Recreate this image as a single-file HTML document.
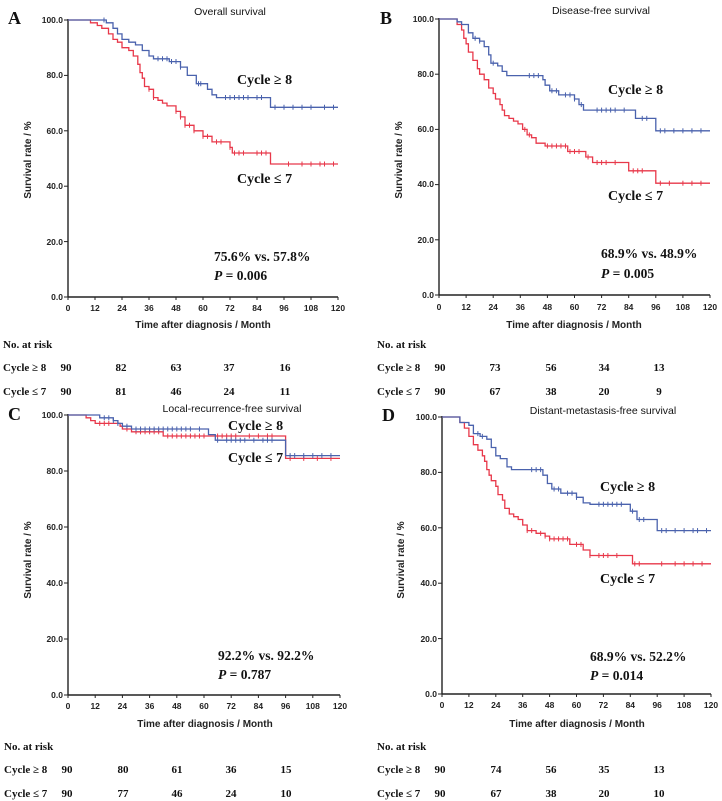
<!DOCTYPE html>
<html><head><meta charset="utf-8">
<style>
html,body{margin:0;padding:0;background:#fff;}
svg{display:block;}
.tk{font-family:"Liberation Sans",Arial,sans-serif;font-weight:bold;font-size:8.5px;fill:#222;}
.ti{font-family:"Liberation Sans",Arial,sans-serif;font-size:10.5px;fill:#111;}
.xl{font-family:"Liberation Sans",Arial,sans-serif;font-weight:bold;font-size:10px;fill:#222;}
.cy{font-family:"Liberation Serif","Times New Roman",serif;font-weight:bold;font-size:14px;fill:#111;}
.st{font-family:"Liberation Serif","Times New Roman",serif;font-weight:bold;font-size:13.5px;fill:#111;}
.rk{font-family:"Liberation Serif","Times New Roman",serif;font-weight:bold;font-size:11px;fill:#111;}
.pl{font-family:"Liberation Serif","Times New Roman",serif;font-weight:bold;font-size:18px;fill:#111;}
</style></head><body>
<svg id="s" width="722" height="801" viewBox="0 0 722 801" xmlns="http://www.w3.org/2000/svg">
<g id="plots"></g>
<!-- Panel A -->
<text class="pl" x="8" y="24">A</text>
<text class="ti" x="230" y="15" text-anchor="middle">Overall survival</text>
<text class="xl" x="203" y="328" text-anchor="middle">Time after diagnosis / Month</text>
<text class="xl" transform="translate(31,160) rotate(-90)" text-anchor="middle">Survival rate / %</text>
<text class="cy" x="237" y="84">Cycle ≥ 8</text>
<text class="cy" x="237" y="183">Cycle ≤ 7</text>
<text class="st" x="214" y="261">75.6% vs. 57.8%</text>
<text class="st" x="214" y="280"><tspan font-style="italic">P</tspan> = 0.006</text>
<text class="rk" x="3" y="348">No. at risk</text>
<text class="rk" x="3" y="371">Cycle ≥ 8</text><text class="rk" x="3" y="395">Cycle ≤ 7</text>
<g class="rk" text-anchor="middle"><text x="66" y="371">90</text><text x="121" y="371">82</text><text x="176" y="371">63</text><text x="229" y="371">37</text><text x="285" y="371">16</text>
<text x="66" y="395">90</text><text x="121" y="395">81</text><text x="176" y="395">46</text><text x="229" y="395">24</text><text x="285" y="395">11</text></g>
<!-- Panel B -->
<text class="pl" x="380" y="24">B</text>
<text class="ti" x="601" y="14" text-anchor="middle">Disease-free survival</text>
<text class="xl" x="574" y="328" text-anchor="middle">Time after diagnosis / Month</text>
<text class="xl" transform="translate(402,160) rotate(-90)" text-anchor="middle">Survival rate / %</text>
<text class="cy" x="608" y="94">Cycle ≥ 8</text>
<text class="cy" x="608" y="200">Cycle ≤ 7</text>
<text class="st" x="601" y="258">68.9% vs. 48.9%</text>
<text class="st" x="601" y="278"><tspan font-style="italic">P</tspan> = 0.005</text>
<text class="rk" x="377" y="348">No. at risk</text>
<text class="rk" x="377" y="371">Cycle ≥ 8</text><text class="rk" x="377" y="395">Cycle ≤ 7</text>
<g class="rk" text-anchor="middle"><text x="440" y="371">90</text><text x="495" y="371">73</text><text x="551" y="371">56</text><text x="604" y="371">34</text><text x="659" y="371">13</text>
<text x="440" y="395">90</text><text x="495" y="395">67</text><text x="551" y="395">38</text><text x="604" y="395">20</text><text x="659" y="395">9</text></g>
<!-- Panel C -->
<text class="pl" x="8" y="420">C</text>
<text class="ti" x="232" y="412" text-anchor="middle">Local-recurrence-free survival</text>
<text class="xl" x="205" y="727" text-anchor="middle">Time after diagnosis / Month</text>
<text class="xl" transform="translate(31,560) rotate(-90)" text-anchor="middle">Survival rate / %</text>
<text class="cy" x="228" y="430">Cycle ≥ 8</text>
<text class="cy" x="228" y="462">Cycle ≤ 7</text>
<text class="st" x="218" y="660">92.2% vs. 92.2%</text>
<text class="st" x="218" y="679"><tspan font-style="italic">P</tspan> = 0.787</text>
<text class="rk" x="4" y="750">No. at risk</text>
<text class="rk" x="4" y="773">Cycle ≥ 8</text><text class="rk" x="4" y="797">Cycle ≤ 7</text>
<g class="rk" text-anchor="middle"><text x="67" y="773">90</text><text x="123" y="773">80</text><text x="177" y="773">61</text><text x="231" y="773">36</text><text x="286" y="773">15</text>
<text x="67" y="797">90</text><text x="123" y="797">77</text><text x="177" y="797">46</text><text x="231" y="797">24</text><text x="286" y="797">10</text></g>
<!-- Panel D -->
<text class="pl" x="382" y="421">D</text>
<text class="ti" x="603" y="414" text-anchor="middle">Distant-metastasis-free survival</text>
<text class="xl" x="577" y="727" text-anchor="middle">Time after diagnosis / Month</text>
<text class="xl" transform="translate(404,560) rotate(-90)" text-anchor="middle">Survival rate / %</text>
<text class="cy" x="600" y="491">Cycle ≥ 8</text>
<text class="cy" x="600" y="583">Cycle ≤ 7</text>
<text class="st" x="590" y="661">68.9% vs. 52.2%</text>
<text class="st" x="590" y="680"><tspan font-style="italic">P</tspan> = 0.014</text>
<text class="rk" x="377" y="750">No. at risk</text>
<text class="rk" x="377" y="773">Cycle ≥ 8</text><text class="rk" x="377" y="797">Cycle ≤ 7</text>
<g class="rk" text-anchor="middle"><text x="440" y="773">90</text><text x="496" y="773">74</text><text x="551" y="773">56</text><text x="604" y="773">35</text><text x="659" y="773">13</text>
<text x="440" y="797">90</text><text x="496" y="797">67</text><text x="551" y="797">38</text><text x="604" y="797">20</text><text x="659" y="797">10</text></g>
<!-- axis tick labels (static) -->
<g class="tk" text-anchor="end">
<text x="63" y="23">100.0</text><text x="63" y="78">80.0</text><text x="63" y="134">60.0</text><text x="63" y="189">40.0</text><text x="63" y="245">20.0</text><text x="63" y="300">0.0</text>
<text x="434" y="22">100.0</text><text x="434" y="77">80.0</text><text x="434" y="132">60.0</text><text x="434" y="187">40.0</text><text x="434" y="243">20.0</text><text x="434" y="298">0.0</text>
<text x="63" y="418">100.0</text><text x="63" y="474">80.0</text><text x="63" y="530">60.0</text><text x="63" y="586">40.0</text><text x="63" y="642">20.0</text><text x="63" y="698">0.0</text>
<text x="437" y="420">100.0</text><text x="437" y="475">80.0</text><text x="437" y="531">60.0</text><text x="437" y="586">40.0</text><text x="437" y="642">20.0</text><text x="437" y="697">0.0</text>
</g>
<g class="tk" text-anchor="middle" id="xt">
<text x="68.0" y="311">0</text><text x="95.0" y="311">12</text><text x="122.0" y="311">24</text><text x="149.0" y="311">36</text><text x="176.0" y="311">48</text><text x="203.0" y="311">60</text><text x="230.0" y="311">72</text><text x="257.0" y="311">84</text><text x="284.0" y="311">96</text><text x="311.0" y="311">108</text><text x="338.0" y="311">120</text>
<text x="439.0" y="310">0</text><text x="466.1" y="310">12</text><text x="493.2" y="310">24</text><text x="520.3" y="310">36</text><text x="547.4" y="310">48</text><text x="574.5" y="310">60</text><text x="601.6" y="310">72</text><text x="628.7" y="310">84</text><text x="655.8" y="310">96</text><text x="682.9" y="310">108</text><text x="710.0" y="310">120</text>
<text x="68.0" y="709">0</text><text x="95.2" y="709">12</text><text x="122.4" y="709">24</text><text x="149.6" y="709">36</text><text x="176.8" y="709">48</text><text x="204.0" y="709">60</text><text x="231.2" y="709">72</text><text x="258.4" y="709">84</text><text x="285.6" y="709">96</text><text x="312.8" y="709">108</text><text x="340.0" y="709">120</text>
<text x="442.0" y="708">0</text><text x="468.9" y="708">12</text><text x="495.8" y="708">24</text><text x="522.7" y="708">36</text><text x="549.6" y="708">48</text><text x="576.5" y="708">60</text><text x="603.4" y="708">72</text><text x="630.3" y="708">84</text><text x="657.2" y="708">96</text><text x="684.1" y="708">108</text><text x="711.0" y="708">120</text>
</g>
</svg>
<script>
var NS="http://www.w3.org/2000/svg",G=document.getElementById("plots");
function el(n,a){var e=document.createElementNS(NS,n);for(var k in a)e.setAttribute(k,a[k]);G.appendChild(e);return e;}
function panel(P,blue,red,bc,rc){
 var sx=function(m){return P.x0+(P.x1-P.x0)*m/120;},sy=function(v){return P.y0+(P.y100-P.y0)*v/100;};
 el("line",{x1:P.x0,y1:P.y100-1,x2:P.x0,y2:P.y0,stroke:"#222","stroke-width":1.4});
 el("line",{x1:P.x0,y1:P.y0,x2:P.x1,y2:P.y0,stroke:"#222","stroke-width":1.4});
 for(var i=0;i<=5;i++){var y=sy(i*20);el("line",{x1:P.x0-4,y1:y,x2:P.x0,y2:y,stroke:"#222","stroke-width":1});}
 for(var j=0;j<=10;j++){var x=sx(j*12);el("line",{x1:x,y1:P.y0,x2:x,y2:P.y0+3,stroke:"#222","stroke-width":1});}
 function draw(d,col,cens){
  var s="M"+sx(0)+","+sy(100),v=100;
  for(var k=0;k<d.length;k++){s+="H"+sx(d[k][0]).toFixed(1)+"V"+sy(d[k][1]).toFixed(1);v=d[k][1];}
  s+="H"+sx(120);
  el("path",{d:s,fill:"none",stroke:col,"stroke-width":1.3});
  for(var c=0;c<cens.length;c++){var m=cens[c],val=100;for(var k=0;k<d.length;k++)if(d[k][0]<=m)val=d[k][1];
   el("line",{x1:sx(m),y1:sy(val)-2.5,x2:sx(m),y2:sy(val)+2.5,stroke:col,"stroke-width":1});}
 }
 draw(red,"#e8384a",rc);draw(blue,"#4a62ad",bc);
}
var cA=[40,42,44,46,48,50,58,59,66,70,72,74,76,78,80,84,86,92,94,98,102,106,110,114,118];
panel({x0:68,x1:338,y0:297,y100:20},
[[17,99],[20,97],[22,95],[24,93],[27,92],[30,91],[33,89],[36,87],[38,86],[45,85],[50,83],[53,80],[57,77],[62,75],[64,73],[66,72],[90,68.5]],
[[10,99],[13,98],[15,97],[18,95],[20,93],[22,92],[24,90],[27,89],[29,87],[31,84],[32,81],[33,79],[34,76],[36,75],[38,72],[40,71],[42,70],[44,69],[48,67],[50,65],[52,62],[56,60],[60,58],[64,56],[72,54],[73,52],[90,48]],
[16,40,42,44,46,48,50,58,59,70,72,74,76,78,80,84,86,92,96,100,104,108,114,118],
[36,38,48,50,52,54,56,60,62,66,68,72,74,76,78,84,86,88,98,104,108,112,114,118]);
panel({x0:439,x1:710,y0:295,y100:19},
[[8,99],[10,98],[13,95],[15,93],[18,92],[20,90],[22,87],[23,84],[26,83],[28,81],[30,79.5],[46,78],[47,76],[49,74],[53,72.5],[60,71],[62,69],[64,67],[87,64],[96,59.5]],
[[8,98],[10,96],[11,93],[12,91],[13,88],[15,85],[17,82],[18,80],[20,78],[22,75],[24,73],[25,71],[27,69],[28,67],[29,65],[31,64],[33,63],[35,62],[37,60],[39,58],[41,57],[43,55],[47,54],[57,52],[65,50],[68,48],[84,45],[96,40.5]],
[16,18,24,40,42,44,50,52,56,58,60,63,70,72,74,76,78,82,90,92,98,100,104,108,112,116],
[38,40,48,50,52,54,56,58,60,62,66,70,72,74,78,86,88,90,98,102,108,112,116]);
panel({x0:68,x1:340,y0:695,y100:415},
[[14,99],[20,98],[22,97],[24,96],[28,95],[62,93],[65,91],[96,85.5]],
[[8,99],[10,98],[12,97],[23,96],[24,95],[28,94],[42,92.5],[96,84.5]],
[16,18,20,22,26,30,32,34,36,38,40,42,44,46,48,50,52,54,58,66,70,72,74,76,78,82,86,88,90,98,100,104,108,112,116],
[14,16,18,26,30,32,34,36,38,40,44,46,48,50,52,54,56,58,60,66,68,70,72,74,80,84,88,90,98,104,110,116]);
panel({x0:442,x1:711,y0:694,y100:417},
[[8,98],[12,97],[14,94],[17,93],[20,92],[22,89],[24,86],[26,85],[29,82],[31,81],[45,79],[47,76],[49,74],[53,72.5],[60,71],[63,69],[66,68.5],[84,66],[87,63],[96,59]],
[[8,98],[10,96],[12,93],[14,90],[16,88],[18,86],[19,84],[20,81],[21,79],[22,77],[24,75],[25,72],[27,70],[28,67],[30,65],[32,64],[34,63],[36,61],[38,59],[42,58],[46,57],[48,56],[57,54],[63,52],[66,50],[85,47]],
[16,18,40,42,44,50,52,56,58,60,70,72,74,76,78,80,85,88,90,98,100,104,108,112,114,118],
[38,40,44,46,48,50,52,54,56,60,62,66,70,72,74,78,86,88,98,104,108,112,116]);
</script>
</body></html>
